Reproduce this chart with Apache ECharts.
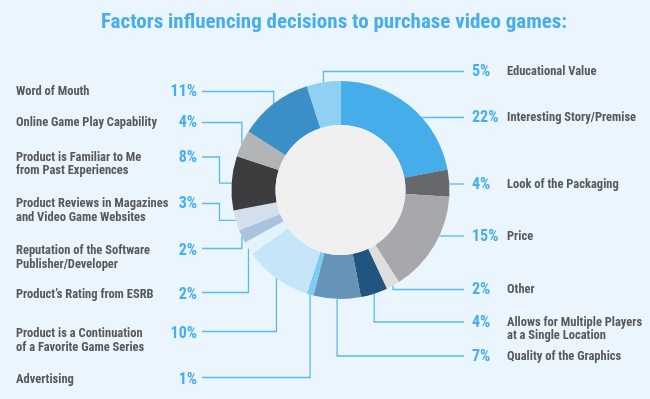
<!DOCTYPE html>
<html>
<head>
<meta charset="utf-8">
<title>Factors influencing decisions to purchase video games</title>
<script src="https://cdn.jsdelivr.net/npm/echarts@6/dist/echarts.min.js"></script>
<style>
html, body { margin: 0; padding: 0; background: #eaf5fd; }
#chart { width: 650px; height: 399px; }
</style>
</head>
<body>
<div id="chart"></div>
<script>
// slices, clockwise from 12 o'clock
var factors = [
    "Interesting Story/Premise",
    "Look of the Packaging",
    "Price",
    "Other",
    "Allows for Multiple Players\nat a Single Location",
    "Quality of the Graphics",
    "Advertising",
    "Product is a Continuation\nof a Favorite Game Series",
    "Product\u2019s Rating from ESRB",
    "Reputation of the Software\nPublisher/Developer",
    "Product Reviews in Magazines\nand Video Game Websites",
    "Product is Familiar to Me\nfrom Past Experiences",
    "Online Game Play Capability",
    "Word of Mouth",
    "Educational Value"
];
var shares = [22, 4, 15, 2, 4, 7, 1, 10, 2, 2, 3, 8, 4, 11, 5];
var sliceColors = [
    "#45aeea", "#67686b", "#a7a8ab", "#dddfdf", "#1f557f",
    "#6694b8", "#7fcaf3", "#c4e6f8", "#e3f3fd", "#aac3dc",
    "#d3e0ec", "#3d3d3f", "#b2b4b5", "#3a8fc6", "#8fd0f3"
];
// label column for each slice and the y of its first text line
var labelSide = ["right", "right", "right", "right", "right", "right", "left",
    "left", "left", "left", "left", "left", "left", "left", "right"];
var labelRowY = [118, 184.5, 236.5, 290, 322.5, 356.5, 380, 334, 295, 251, 204, 157.5, 123, 92, 72];

var FONT = "'Roboto Condensed', 'DejaVu Sans Condensed', sans-serif";
var BLUE = "#48adec";
var LINE = "#5ab9ef";
var LH = 13.4;

var chart = echarts.init(document.getElementById("chart"));

function leader(params) {
    var i = params.dataIndex;
    var lay = chart.getModel().getSeriesByIndex(0).getData().getItemLayout(i);
    var cx = lay.cx, cy = lay.cy, r = lay.r;
    var y = labelRowY[i];
    var ly = y - 0.5;
    var mid = (lay.startAngle + lay.endAngle) / 2;
    var mx = cx + r * Math.cos(mid), my = cy + r * Math.sin(mid);
    var pts;
    if (labelSide[i] === "right") {
        var endX = 464;
        // straight across when the row meets this slice's outer edge
        if (Math.abs(ly - cy) < r) {
            var hx = cx + Math.sqrt(r * r - (ly - cy) * (ly - cy));
            var d = Math.atan2(ly - cy, hx - cx) - lay.startAngle;
            while (d < 0) d += Math.PI * 2;
            while (d >= Math.PI * 2) d -= Math.PI * 2;
            if (d <= lay.endAngle - lay.startAngle) {
                pts = [[hx, ly], [endX, ly]];
            }
        }
        if (!pts) pts = [[mx, my], [mx, ly], [endX, ly]];
        return { x: 472, y: y - LH / 2, align: "left", verticalAlign: "top", labelLinePoints: pts };
    }
    var endL = 202;
    if (y > cy + 60) ly = y - 2.5;
    if (Math.abs(mx - cx) > 0.93 * r) {
        // slice faces sideways: step out first, then up/down to the row
        var bx = cx - r - 12;
        pts = [[mx, my], [bx, my], [bx, ly], [endL, ly]];
    } else {
        pts = [[mx, my], [mx, ly], [endL, ly]];
    }
    return { x: 16, y: y - LH / 2, align: "left", verticalAlign: "top", labelLinePoints: pts };
}

function labelText(p) {
    var lines = p.name.split("\n");
    var pct = p.value + "%";
    if (labelSide[p.dataIndex] === "left") {
        return lines.map(function (t, k) {
            return "{nl|" + t + "}" + (k === 0 ? "{pl|" + pct + "}" : "");
        }).join("\n");
    }
    return lines.map(function (t, k) {
        return "{pr|" + (k === 0 ? pct : " ") + "}{nr|" + t + "}";
    }).join("\n");
}

var nameStyle = { fontFamily: FONT, fontSize: 12.5, fontWeight: "bold", color: "#58595b", lineHeight: LH };
var pctStyle = { fontFamily: FONT, fontSize: 16, fontWeight: "bold", color: BLUE, lineHeight: LH };

var option = {
    backgroundColor: "#eaf5fd",
    title: {
        text: "Factors influencing decisions to purchase video games:",
        left: 329,
        textAlign: "center",
        top: 7,
        textStyle: { fontFamily: FONT, fontSize: 21, fontWeight: "bold", color: BLUE }
    },
    series: [
        {
            type: "pie",
            center: [340.5, 190],
            radius: [65, 109],
            startAngle: 90,
            clockwise: true,
            avoidLabelOverlap: false,
            animation: false,
            silent: true,
            label: {
                show: true,
                position: "outside",
                formatter: labelText,
                rich: {
                    nl: Object.assign({ width: 150 }, nameStyle),
                    pl: Object.assign({ width: 31, align: "right" }, pctStyle),
                    pr: Object.assign({ width: 35 }, pctStyle),
                    nr: nameStyle
                }
            },
            labelLine: { show: true, lineStyle: { color: LINE, width: 1.3 } },
            labelLayout: leader,
            data: factors.map(function (f, i) {
                return { name: f, value: shares[i], itemStyle: { color: sliceColors[i] } };
            })
        },
        {
            type: "pie",
            center: [340.5, 190],
            radius: [0, 65],
            silent: true,
            animation: false,
            label: { show: false },
            labelLine: { show: false },
            data: [{ value: 1, itemStyle: { color: "#f0f0f0" } }]
        }
    ]
};
chart.setOption(option);
</script>
</body>
</html>
